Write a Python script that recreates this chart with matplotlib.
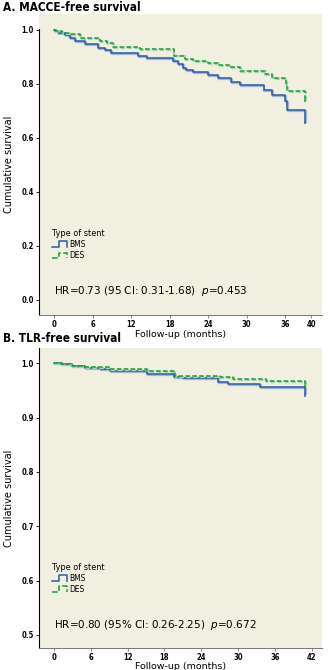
"""Kaplan-Meier curves, BMS vs DES: MACCE-free and TLR-free survival."""

import matplotlib
matplotlib.use("Agg")
import matplotlib.pyplot as plt
import matplotlib.patheffects as pe
from matplotlib.legend_handler import HandlerBase
from matplotlib.lines import Line2D

# panel A: MACCE-free survival
macce_bms_t = [0, 0.3, 0.7, 1.7, 2.5, 3.3, 4.8, 6.9, 7.9, 8.9, 13.1, 14.4, 18.5, 19.3,
               20.1, 20.6, 21.7, 24.0, 25.5, 27.6, 29.0, 32.6, 33.9, 36.0, 36.2, 39.0]
macce_bms_s = [1.0, 0.994, 0.988, 0.981, 0.969, 0.957, 0.948, 0.933, 0.925, 0.914, 0.904,
               0.895, 0.885, 0.873, 0.860, 0.852, 0.843, 0.833, 0.821, 0.806, 0.796, 0.778,
               0.759, 0.735, 0.704, 0.663]
macce_des_t = [0, 0.2, 1.2, 2.5, 4.0, 7.1, 8.2, 9.2, 13.4, 18.6, 20.4, 21.7, 24.0, 25.5,
               27.3, 28.9, 32.8, 33.9, 36.1, 36.3, 39.0]
macce_des_s = [1.0, 0.994, 0.990, 0.983, 0.970, 0.957, 0.951, 0.938, 0.928, 0.905, 0.893,
               0.885, 0.877, 0.870, 0.862, 0.849, 0.836, 0.821, 0.799, 0.775, 0.741]

# panel B: TLR-free survival
tlr_bms_t = [0, 1.25, 2.9, 5.1, 7.5, 9.2, 15.1, 19.5, 20.3, 21.1, 26.8, 28.4, 33.6, 41.0]
tlr_bms_s = [1.0, 0.998, 0.995, 0.992, 0.989, 0.985, 0.980, 0.975, 0.974, 0.972, 0.966,
             0.962, 0.957, 0.945]
tlr_des_t = [0, 1.1, 2.9, 4.9, 9.2, 15.1, 19.8, 21.7, 27.1, 29.2, 34.5, 41.0]
tlr_des_s = [1.0, 0.998, 0.995, 0.993, 0.989, 0.985, 0.977, 0.976, 0.974, 0.971, 0.967, 0.960]

group_labels = ["BMS", "DES"]

BG = "#f1efe0"
BLUE = "#2b5ba6"
GREEN = "#1a9a3a"
NARROW = ["Liberation Sans Narrow", "DejaVu Sans"]


class StepHandler(HandlerBase):
    def create_artists(self, legend, orig, xd, yd, w, h, fontsize, trans):
        xs = [xd, xd + w * 0.45, xd + w * 0.45, xd + w, xd + w]
        ys = [yd, yd, yd + h, yd + h, yd]
        line = Line2D(xs, ys, color=orig.get_color(), lw=orig.get_linewidth(),
                      linestyle=orig.get_linestyle(), transform=trans)
        return [line]


def narrow(txt, size, bold=False):
    txt.set_family(NARROW)
    txt.set_stretch("condensed")
    txt.set_fontsize(size)
    if bold:
        txt.set_fontweight("bold")


def km_panel(ax, series, xticks, xlim, ylim, yticks, spine_top, hr_text):
    ax.set_facecolor(BG)
    handles = []
    for (t, s), color, ls, shadow, label in zip(
            series, [BLUE, GREEN], ["-", (0, (3, 1.5))], ["#a3b6d0", "#a6d4ae"], group_labels):
        line, = ax.step(t, s, where="post", color=color, lw=1.1, linestyle=ls, label=label,
                        path_effects=[pe.SimpleLineShadow(offset=(0.7, -0.7), shadow_color=shadow,
                                                          alpha=1.0, linewidth=1.6),
                                      pe.Normal()])
        handles.append(line)
    # final censor drop at the last follow-up time
    span = ylim[1] - ylim[0]
    ax.vlines([series[0][0][-1]], [series[0][1][-1] - 0.012 * span],
              [series[0][1][-1]], color=BLUE, lw=1.1)
    ax.vlines([series[1][0][-1]], [series[1][1][-1] - 0.006 * span],
              [series[1][1][-1]], color=GREEN, lw=1.1, linestyle=(0, (2, 1)))

    ax.set_xlim(*xlim)
    ax.set_ylim(*ylim)
    ax.set_xticks(xticks)
    ax.set_yticks(yticks)
    ax.set_yticklabels([f"{v:.1f}" for v in yticks])
    for lab in ax.get_xticklabels() + ax.get_yticklabels():
        narrow(lab, 5.5, bold=True)
    ax.tick_params(axis="both", direction="out", length=2.5, width=0.6, pad=1.5)
    ax.tick_params(axis="x", color="#777777", pad=1.2)
    for side in ("top", "right"):
        ax.spines[side].set_visible(False)
    ax.spines["left"].set_color("black")
    ax.spines["left"].set_linewidth(0.8)
    ax.spines["left"].set_bounds(ylim[0], spine_top)
    ax.spines["bottom"].set_color("#777777")
    ax.spines["bottom"].set_linewidth(0.7)

    ax.set_ylabel("Cumulative survival", fontsize=7)
    ax.yaxis.set_label_coords(-0.09, 0.5)
    ax.set_xlabel("Follow-up (months)", fontsize=6.8)
    ax.xaxis.label.set_va("center")

    leg = ax.legend(handles=handles, title="Type of stent", loc="upper left",
                    bbox_to_anchor=(0.045, 0.285), frameon=False, fontsize=6,
                    handler_map={Line2D: StepHandler()}, handlelength=1.8, handleheight=0.7,
                    handletextpad=0.3, labelspacing=0.25, borderpad=0, borderaxespad=0)
    narrow(leg.get_title(), 6.5)
    leg._legend_box.align = "left"
    for txt in leg.get_texts():
        narrow(txt, 6)

    ax.text(0.052, 0.055, hr_text, transform=ax.transAxes, fontsize=7.5, ha="left", va="bottom")


fig = plt.figure(figsize=(3.31, 6.70), dpi=100)
fig.patch.set_facecolor("white")

ax_a = fig.add_axes([0.1193, 0.5299, 0.8535, 0.4493])
km_panel(ax_a, [(macce_bms_t, macce_bms_s), (macce_des_t, macce_des_s)],
         [0, 6, 12, 18, 24, 30, 36, 40], (-2.25, 41.7),
         (-0.056, 1.059), [0.0, 0.2, 0.4, 0.6, 0.8, 1.0], 1.005,
         r"HR=0.73 (95 CI: 0.31-1.68)  $p$=0.453")
ax_a.xaxis.set_label_coords(0.5, -0.064)

ax_b = fig.add_axes([0.1193, 0.0328, 0.8535, 0.4478])
km_panel(ax_b, [(tlr_bms_t, tlr_bms_s), (tlr_des_t, tlr_des_s)],
         [0, 6, 12, 18, 24, 30, 36, 42], (-2.38, 43.7),
         (0.476, 1.028), [0.5, 0.6, 0.7, 0.8, 0.9, 1.0], 1.028,
         r"HR=0.80 (95% CI: 0.26-2.25)  $p$=0.672")
ax_b.xaxis.set_label_coords(0.5, -0.061)

for y, title in [(0.9985, "A. MACCE-free survival"), (0.5045, "B. TLR-free survival")]:
    t = fig.text(0.008, y, title, ha="left", va="top")
    narrow(t, 8.5, bold=True)

fig.savefig("out.png", dpi=100, facecolor="white")
